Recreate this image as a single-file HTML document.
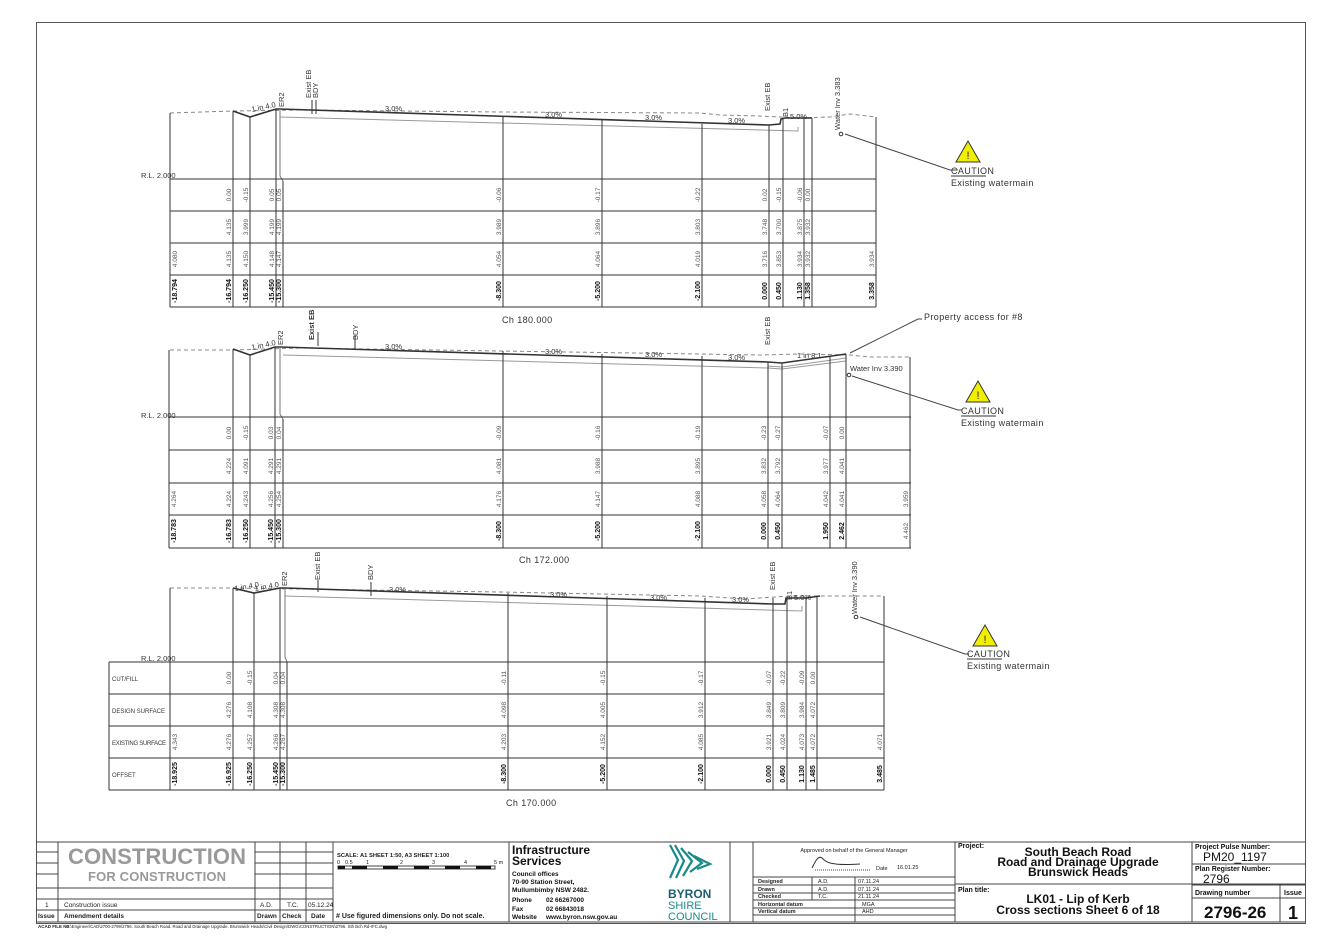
<!DOCTYPE html>
<html><head><meta charset="utf-8"><style>
html,body{margin:0;padding:0;background:#fff}
svg{display:block}
text{font-family:"Liberation Sans",sans-serif}
.v text{font-size:6.5px;fill:#555;text-anchor:middle}
.v text.o{font-weight:bold;fill:#111;font-size:7px}
.l{font-size:7.5px;fill:#333}
.m{font-size:9px;fill:#333;letter-spacing:.4px}
.t{fill:#111}
</style></head><body>
<svg width="1340" height="948" viewBox="0 0 1340 948" xmlns="http://www.w3.org/2000/svg">
<rect x="36.5" y="22.5" width="1269" height="901" fill="none" stroke="#555" stroke-width="1"/>

<!-- ===== SECTION 1 (Ch 180) ===== -->
<g stroke="#333" fill="none" stroke-width="1">
<polyline points="170,113 233,111 300,110 500,112 700,113 720,115 760,116 800,118 830,117 850,114 876,117" stroke="#888" stroke-dasharray="4,3"/>
<polyline points="233,111 250,117 276,109 280,109 769,125 780,124 781,119 785,118 804,118 812,118" stroke-width="1.6"/>
<polyline points="280,117 798,131 798,127" stroke="#999"/>
<path d="M280,109 V176 L283,181" stroke="#777"/>
<path d="M170,179 H876 M170,211 H876 M170,243 H876 M170,275 H876 M170,307 H876"/>
<path d="M170,113 V307 M233,111 V307 M250,117 V307 M276,109 V307 M283,181 V307 M503,117 V307 M602,120 V307 M702,124 V307 M769,125 V307 M783,118 V307 M804,118 V307 M812,118 V307 M876,117 V307"/>
<path d="M312,100 V114 M316,100 V114" />
<path d="M845,134 L950,170 H958" stroke="#444"/>
</g>
<circle cx="841" cy="134" r="1.8" fill="none" stroke="#333"/>
<g class="l">
<text x="141" y="178">R.L. 2.000</text>
<text x="252" y="112" transform="rotate(-12 252 112)">1 in 4.0</text>
<text x="284" y="107" transform="rotate(-90 284 107)">ER2</text>
<text x="311" y="98" transform="rotate(-90 311 98)">Exist EB</text>
<text x="318" y="98" transform="rotate(-90 318 98)">BDY</text>
<text x="385" y="111">3.0%</text><text x="545" y="117">3.0%</text><text x="645" y="120">3.0%</text><text x="728" y="123">3.0%</text>
<text x="770" y="111" transform="rotate(-90 770 111)">Exist EB</text>
<text x="788" y="117" transform="rotate(-90 788 117)">B1</text>
<text x="790" y="119">5.0%</text>
<text x="840" y="130" transform="rotate(-90 840 130)">Water Inv 3.383</text>
<text x="502" y="323" class="m">Ch 180.000</text>
</g>
<g class="v">
<g transform="translate(177 0) rotate(-90)"><text x="-259">4.080</text><text class="o" x="-291">-18.794</text></g>
<g transform="translate(231 0) rotate(-90)"><text x="-195">0.00</text><text x="-227">4.135</text><text x="-259">4.135</text><text class="o" x="-291">-16.794</text></g>
<g transform="translate(248 0) rotate(-90)"><text x="-195">-0.15</text><text x="-227">3.999</text><text x="-259">4.150</text><text class="o" x="-291">-16.250</text></g>
<g transform="translate(274 0) rotate(-90)"><text x="-195">0.05</text><text x="-227">4.199</text><text x="-259">4.148</text><text class="o" x="-291">-15.450</text></g>
<g transform="translate(281 0) rotate(-90)"><text x="-195">0.05</text><text x="-227">4.199</text><text x="-259">4.147</text><text class="o" x="-291">-15.300</text></g>
<g transform="translate(501 0) rotate(-90)"><text x="-195">-0.06</text><text x="-227">3.989</text><text x="-259">4.054</text><text class="o" x="-291">-8.300</text></g>
<g transform="translate(600 0) rotate(-90)"><text x="-195">-0.17</text><text x="-227">3.896</text><text x="-259">4.064</text><text class="o" x="-291">-5.200</text></g>
<g transform="translate(700 0) rotate(-90)"><text x="-195">-0.22</text><text x="-227">3.803</text><text x="-259">4.019</text><text class="o" x="-291">-2.100</text></g>
<g transform="translate(767 0) rotate(-90)"><text x="-195">0.02</text><text x="-227">3.748</text><text x="-259">3.716</text><text class="o" x="-291">0.000</text></g>
<g transform="translate(781 0) rotate(-90)"><text x="-195">-0.15</text><text x="-227">3.700</text><text x="-259">3.853</text><text class="o" x="-291">0.450</text></g>
<g transform="translate(802 0) rotate(-90)"><text x="-195">-0.06</text><text x="-227">3.875</text><text x="-259">3.934</text><text class="o" x="-291">1.130</text></g>
<g transform="translate(810 0) rotate(-90)"><text x="-195">0.00</text><text x="-227">3.932</text><text x="-259">3.932</text><text class="o" x="-291">1.358</text></g>
<g transform="translate(874 0) rotate(-90)"><text x="-259">3.934</text><text class="o" x="-291">3.358</text></g>
</g>
<polygon points="968,141 980,162 956,162" fill="#f2ee00" stroke="#333"/><text x="968" y="159" font-size="11" text-anchor="middle" fill="#333">!</text>
<text x="951" y="174" class="m">CAUTION</text><path d="M951,176 H986" stroke="#333"/>
<text x="951" y="186" class="m">Existing watermain</text>

<!-- ===== SECTION 2 (Ch 172) ===== -->
<g stroke="#333" fill="none" stroke-width="1">
<polyline points="170,350 233,350 300,348 500,351 700,354 760,355 800,354 850,355 870,357 911,357" stroke="#888" stroke-dasharray="4,3"/>
<polyline points="233,349 250,355 275,347 280,347 768,362 782,363 846,354" stroke-width="1.6"/>
<polyline points="283,355 768,368 782,369 846,361" stroke="#999"/>
<polyline points="768,366 782,367 846,358" stroke="#999"/>
<path d="M280,347 V414 L283,419" stroke="#777"/>
<path d="M169,417 H911 M169,450 H911 M169,483 H911 M169,515 H911 M169,548 H911"/>
<path d="M169,350 V548 M233,349 V548 M250,355 V548 M275,347 V548 M283,419 V548 M503,351 V548 M602,354 V548 M702,356 V548 M768,362 V548 M782,363 V548 M830,356 V548 M846,354 V548 M910,357 V548"/>
<path d="M318,332 V346 M355,335 V350"/>
<path d="M850,353 L918,319 H922 M852,376 L958,410 H962" stroke="#444"/>
</g>
<circle cx="849" cy="375" r="1.8" fill="none" stroke="#333"/>
<g class="l">
<text x="141" y="418">R.L. 2.000</text>
<text x="252" y="350" transform="rotate(-12 252 350)">1 in 4.0</text>
<text x="283" y="345" transform="rotate(-90 283 345)">ER2</text>
<text x="314" y="340" transform="rotate(-90 314 340)" font-weight="bold">Exist EB</text>
<text x="358" y="340" transform="rotate(-90 358 340)">BDY</text>
<text x="385" y="349">3.0%</text><text x="545" y="354">3.0%</text><text x="645" y="357">3.0%</text><text x="728" y="360">3.0%</text>
<text x="770" y="345" transform="rotate(-90 770 345)">Exist EB</text>
<text x="797" y="358">1 in 8.1</text>
<text x="850" y="371">Water Inv 3.390</text>
<text x="519" y="563" class="m">Ch 172.000</text>
</g>
<text x="924" y="320" class="m">Property access for #8</text>
<g class="v">
<g transform="translate(176 0) rotate(-90)"><text x="-499">4.264</text><text class="o" x="-531">-18.783</text></g>
<g transform="translate(231 0) rotate(-90)"><text x="-433">0.00</text><text x="-466">4.224</text><text x="-499">4.224</text><text class="o" x="-531">-16.783</text></g>
<g transform="translate(248 0) rotate(-90)"><text x="-433">-0.15</text><text x="-466">4.091</text><text x="-499">4.243</text><text class="o" x="-531">-16.250</text></g>
<g transform="translate(273 0) rotate(-90)"><text x="-433">0.03</text><text x="-466">4.291</text><text x="-499">4.256</text><text class="o" x="-531">-15.450</text></g>
<g transform="translate(281 0) rotate(-90)"><text x="-433">0.04</text><text x="-466">4.291</text><text x="-499">4.254</text><text class="o" x="-531">-15.300</text></g>
<g transform="translate(501 0) rotate(-90)"><text x="-433">-0.09</text><text x="-466">4.081</text><text x="-499">4.176</text><text class="o" x="-531">-8.300</text></g>
<g transform="translate(600 0) rotate(-90)"><text x="-433">-0.16</text><text x="-466">3.988</text><text x="-499">4.147</text><text class="o" x="-531">-5.200</text></g>
<g transform="translate(700 0) rotate(-90)"><text x="-433">-0.19</text><text x="-466">3.895</text><text x="-499">4.088</text><text class="o" x="-531">-2.100</text></g>
<g transform="translate(766 0) rotate(-90)"><text x="-433">-0.23</text><text x="-466">3.832</text><text x="-499">4.058</text><text class="o" x="-531">0.000</text></g>
<g transform="translate(780 0) rotate(-90)"><text x="-433">-0.27</text><text x="-466">3.792</text><text x="-499">4.064</text><text class="o" x="-531">0.450</text></g>
<g transform="translate(828 0) rotate(-90)"><text x="-433">-0.07</text><text x="-466">3.977</text><text x="-499">4.042</text><text class="o" x="-531">1.950</text></g>
<g transform="translate(844 0) rotate(-90)"><text x="-433">0.00</text><text x="-466">4.041</text><text x="-499">4.041</text><text class="o" x="-531">2.462</text></g>
<g transform="translate(908 0) rotate(-90)"><text x="-499">3.959</text><text x="-531">4.462</text></g>
</g>
<polygon points="978,381 990,402 966,402" fill="#f2ee00" stroke="#333"/><text x="978" y="399" font-size="11" text-anchor="middle" fill="#333">!</text>
<text x="961" y="414" class="m">CAUTION</text><path d="M961,416 H996" stroke="#333"/>
<text x="961" y="426" class="m">Existing watermain</text>

<!-- ===== SECTION 3 (Ch 170) ===== -->
<g stroke="#333" fill="none" stroke-width="1">
<polyline points="170,588 233,588 300,589 500,592 700,596 745,599 790,596 820,596 884,596" stroke="#888" stroke-dasharray="4,3"/>
<polyline points="233,588 254,593 280,588 285,588 773,604 785,604 786,598 806,598 820,596" stroke-width="1.6"/>
<polyline points="285,596 802,611 802,606" stroke="#999"/>
<path d="M285,588 V657 L287,662" stroke="#777"/>
<path d="M109,662 H884 M109,694 H884 M109,726 H884 M109,758 H884 M109,790 H884 M109,662 V790"/>
<path d="M170,588 V790 M233,588 V790 M254,593 V790 M280,588 V790 M287,662 V790 M508,593 V790 M607,596 V790 M705,598 V790 M773,598 V790 M787,598 V790 M806,598 V790 M817,596 V790 M884,596 V790"/>
<path d="M318,580 V592 M371,582 V596"/>
<path d="M860,617 L965,654 H969" stroke="#444"/>
</g>
<circle cx="856" cy="617" r="1.8" fill="none" stroke="#333"/>
<g class="l">
<text x="141" y="661">R.L. 2.000</text>
<text x="112" y="681" font-size="6">CUT/FILL</text>
<text x="112" y="713" font-size="6">DESIGN SURFACE</text>
<text x="112" y="745" font-size="6" textLength="54">EXISTING SURFACE</text>
<text x="112" y="777" font-size="6">OFFSET</text>
<text x="235" y="591" transform="rotate(-10 235 591)">1 in 4.0</text>
<text x="255" y="591" transform="rotate(-10 255 591)">1 in 4.0</text>
<text x="287" y="586" transform="rotate(-90 287 586)">ER2</text>
<text x="320" y="580" transform="rotate(-90 320 580)">Exist EB</text>
<text x="373" y="580" transform="rotate(-90 373 580)">BDY</text>
<text x="389" y="592">3.0%</text><text x="550" y="597">3.0%</text><text x="650" y="600">3.0%</text><text x="732" y="602">3.0%</text>
<text x="775" y="590" transform="rotate(-90 775 590)">Exist EB</text>
<text x="792" y="600" transform="rotate(-90 792 600)">B1</text>
<text x="794" y="600">5.0%</text>
<text x="857" y="614" transform="rotate(-90 857 614)">Water Inv 3.390</text>
<text x="506" y="806" class="m">Ch 170.000</text>
</g>
<g class="v">
<g transform="translate(177 0) rotate(-90)"><text x="-742">4.343</text><text class="o" x="-774">-18.925</text></g>
<g transform="translate(231 0) rotate(-90)"><text x="-678">0.00</text><text x="-710">4.276</text><text x="-742">4.276</text><text class="o" x="-774">-16.925</text></g>
<g transform="translate(252 0) rotate(-90)"><text x="-678">-0.15</text><text x="-710">4.108</text><text x="-742">4.257</text><text class="o" x="-774">-16.250</text></g>
<g transform="translate(278 0) rotate(-90)"><text x="-678">0.04</text><text x="-710">4.308</text><text x="-742">4.266</text><text class="o" x="-774">-15.450</text></g>
<g transform="translate(285 0) rotate(-90)"><text x="-678">0.04</text><text x="-710">4.308</text><text x="-742">4.267</text><text class="o" x="-774">-15.300</text></g>
<g transform="translate(506 0) rotate(-90)"><text x="-678">-0.11</text><text x="-710">4.098</text><text x="-742">4.203</text><text class="o" x="-774">-8.300</text></g>
<g transform="translate(605 0) rotate(-90)"><text x="-678">-0.15</text><text x="-710">4.005</text><text x="-742">4.152</text><text class="o" x="-774">-5.200</text></g>
<g transform="translate(703 0) rotate(-90)"><text x="-678">-0.17</text><text x="-710">3.912</text><text x="-742">4.085</text><text class="o" x="-774">-2.100</text></g>
<g transform="translate(771 0) rotate(-90)"><text x="-678">-0.07</text><text x="-710">3.849</text><text x="-742">3.921</text><text class="o" x="-774">0.000</text></g>
<g transform="translate(785 0) rotate(-90)"><text x="-678">-0.22</text><text x="-710">3.809</text><text x="-742">4.024</text><text class="o" x="-774">0.450</text></g>
<g transform="translate(804 0) rotate(-90)"><text x="-678">-0.09</text><text x="-710">3.984</text><text x="-742">4.073</text><text class="o" x="-774">1.130</text></g>
<g transform="translate(815 0) rotate(-90)"><text x="-678">0.00</text><text x="-710">4.072</text><text x="-742">4.072</text><text class="o" x="-774">1.485</text></g>
<g transform="translate(882 0) rotate(-90)"><text x="-742">4.071</text><text class="o" x="-774">3.485</text></g>
</g>
<polygon points="985,625 997,646 973,646" fill="#f2ee00" stroke="#333"/><text x="985" y="643" font-size="11" text-anchor="middle" fill="#333">!</text>
<text x="967" y="657" class="m">CAUTION</text><path d="M967,659 H1002" stroke="#333"/>
<text x="967" y="669" class="m">Existing watermain</text>

<!-- ===== TITLE BLOCK ===== -->
<g stroke="#444" fill="none" stroke-width="1">
<path d="M36,842 H1305 M36,922 H1305"/>
<path d="M36,852 H58 M36,863 H58 M36,874 H58 M36,888 H333 M36,899 H333 M36,910 H333"/>
<path d="M58,842 V922 M255,842 V922 M280,842 V922 M306,842 V922 M333,842 V922 M509,842 V922 M730,842 V922 M753,842 V922 M955,842 V922 M1192,842 V922"/>
<path d="M255,852 H333 M255,863 H333 M255,874 H333"/>
<path d="M753,877 H955 M753,885 H955 M753,893 H955 M753,900 H955 M753,908 H955 M753,915 H955 M812,877 V900 M855,877 V922"/>
<path d="M955,884 H1305 M1192,864 H1305 M1192,885 H1305 M1192,898 H1305 M1280,885 V922"/>
<path d="M815,870 H870" stroke-dasharray="1,1"/>
<path d="M812,868 C815,862 818,855 822,858 C826,862 830,866 860,864" stroke="#333"/>
<rect x="338" y="866" width="157" height="3" fill="#fff"/>
</g>
<g fill="#111">
<rect x="338" y="866" width="7" height="3"/><rect x="352" y="866" width="15" height="3"/><rect x="383" y="866" width="15" height="3"/><rect x="414" y="866" width="15" height="3"/><rect x="445" y="866" width="15" height="3"/><rect x="476" y="866" width="15" height="3"/>
</g>
<g font-size="5.5" fill="#222"><text x="337" y="864">0</text><text x="345" y="864">0.5</text><text x="366" y="864">1</text><text x="400" y="864">2</text><text x="432" y="864">3</text><text x="464" y="864">4</text><text x="494" y="864">5 m</text></g>
<text x="68" y="864" font-size="22" font-weight="bold" fill="#999" textLength="178">CONSTRUCTION</text>
<text x="88" y="881" font-size="13" font-weight="bold" fill="#999" textLength="138">FOR CONSTRUCTION</text>
<g font-size="6.5" fill="#222">
<text x="45" y="907">1</text><text x="64" y="907">Construction issue</text><text x="260" y="907">A.D.</text><text x="287" y="907">T.C.</text><text x="308" y="907">05.12.24</text>
<text x="38" y="918" font-weight="bold">Issue</text><text x="64" y="918" font-weight="bold">Amendment details</text><text x="257" y="918" font-weight="bold">Drawn</text><text x="282" y="918" font-weight="bold">Check</text><text x="311" y="918" font-weight="bold">Date</text>
<text x="337" y="857" font-size="5.8" font-weight="bold">SCALE: A1 SHEET 1:50, A3 SHEET 1:100</text>
<text x="336" y="918" font-size="7" font-weight="bold"># Use figured dimensions only. Do not scale.</text>
<text x="38" y="928" font-size="4.5" font-weight="bold">ACAD FILE No:</text>
<text x="66" y="928" font-size="4.3">G:\Engineer\CAD\2700-2799\2796. South Beach Road. Road and Drainage Upgrade. Brunswick Heads\Civil Design\DWG\CONSTRUCTION\2796. Sth Bch Rd-rFC.dwg</text>
</g>
<g fill="#111">
<text x="512" y="854" font-size="12" font-weight="bold">Infrastructure</text>
<text x="512" y="865" font-size="12" font-weight="bold">Services</text>
<text x="512" y="876" font-size="6.5" font-weight="bold">Council offices</text>
<text x="512" y="884" font-size="6.5" font-weight="bold">70-90 Station Street,</text>
<text x="512" y="892" font-size="6.5" font-weight="bold">Mullumbimby  NSW 2482.</text>
<text x="512" y="902" font-size="6.5" font-weight="bold">Phone</text><text x="546" y="902" font-size="6.5" font-weight="bold">02 66267000</text>
<text x="512" y="911" font-size="6.5" font-weight="bold">Fax</text><text x="546" y="911" font-size="6.5" font-weight="bold">02 66843018</text>
<text x="512" y="919" font-size="6.5" font-weight="bold">Website</text><text x="546" y="919" font-size="6.5" font-weight="bold">www.byron.nsw.gov.au</text>
</g>
<g stroke="#1a8a8a" stroke-width="2.2" fill="none">
<path d="M670,845 L678,860 L670,878"/><path d="M675,845 L684,861 L676,878"/><path d="M681,848 L692,861 L683,876"/><path d="M688,852 L702,863 L690,872"/><path d="M694,856 L710,864 L697,869"/>
</g>
<text x="668" y="898" font-size="12" font-weight="bold" fill="#1a5f6f">BYRON</text>
<text x="668" y="909" font-size="11" fill="#1a8a8a">SHIRE</text>
<text x="668" y="920" font-size="11" fill="#1a8a8a">COUNCIL</text>
<g font-size="5.5" fill="#222">
<text x="854" y="852" text-anchor="middle">Approved on behalf of the General Manager</text>
<text x="876" y="870">Date</text><text x="897" y="869">16.01.25</text>
<text x="758" y="883" font-weight="bold">Designed</text><text x="818" y="883">A.D.</text><text x="858" y="883">07.11.24</text>
<text x="758" y="891" font-weight="bold">Drawn</text><text x="818" y="891">A.D.</text><text x="858" y="891">07.11.24</text>
<text x="758" y="898" font-weight="bold">Checked</text><text x="818" y="898">T.C.</text><text x="858" y="898">21.11.24</text>
<text x="758" y="906" font-weight="bold">Horizontal datum</text><text x="862" y="906">MGA</text>
<text x="758" y="913" font-weight="bold">Vertical datum</text><text x="862" y="913">AHD</text>
</g>
<g fill="#111">
<text x="958" y="848" font-size="7" font-weight="bold">Project:</text>
<text x="1078" y="856" font-size="12" font-weight="bold" text-anchor="middle">South Beach Road</text>
<text x="1078" y="866" font-size="12" font-weight="bold" text-anchor="middle">Road and Drainage Upgrade</text>
<text x="1078" y="876" font-size="12" font-weight="bold" text-anchor="middle">Brunswick Heads</text>
<text x="958" y="892" font-size="7" font-weight="bold">Plan title:</text>
<text x="1078" y="903" font-size="12" font-weight="bold" text-anchor="middle">LK01 - Lip of Kerb</text>
<text x="1078" y="914" font-size="12" font-weight="bold" text-anchor="middle">Cross sections Sheet 6 of 18</text>
<text x="1195" y="849" font-size="7" font-weight="bold">Project Pulse Number:</text>
<text x="1203" y="861" font-size="12">PM20_1197</text>
<text x="1195" y="871" font-size="7" font-weight="bold">Plan Register Number:</text>
<text x="1203" y="883" font-size="12">2796</text>
<text x="1195" y="895" font-size="7" font-weight="bold">Drawing number</text>
<text x="1284" y="895" font-size="7" font-weight="bold">Issue</text>
<text x="1204" y="918" font-size="17" font-weight="bold">2796-26</text>
<text x="1288" y="919" font-size="18" font-weight="bold">1</text>
</g>
</svg>
</body></html>
